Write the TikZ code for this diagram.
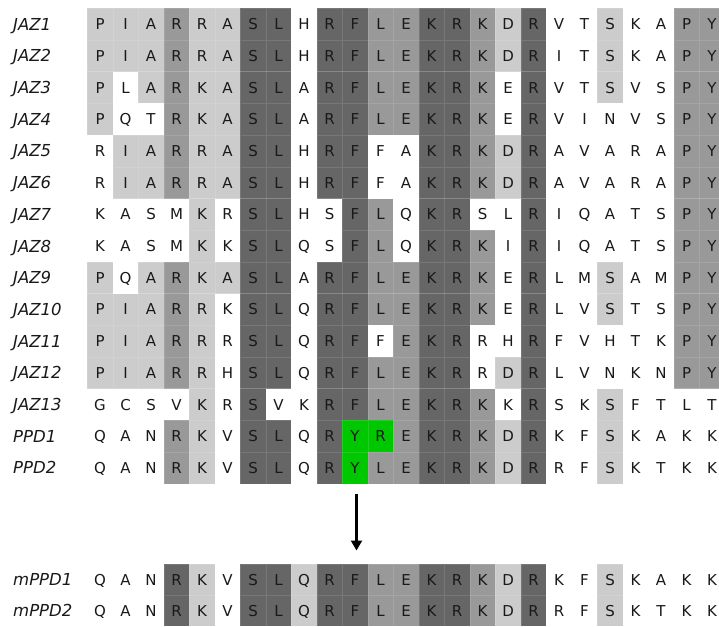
\documentclass[tikz,border=0pt]{standalone}
\usepackage{fontspec}
\setmainfont{DejaVu Sans}
\usetikzlibrary{arrows.meta}
\definecolor{sW}{RGB}{255,255,255}
\definecolor{sL}{RGB}{204,204,204}
\definecolor{sM}{RGB}{153,153,153}
\definecolor{sD}{RGB}{102,102,102}
\definecolor{sG}{RGB}{0,200,0}
\definecolor{ink}{RGB}{25,25,25}
\tikzset{
 cellbox/.style={draw=white, draw opacity=0.12, line width=0.6pt, inner sep=0pt, outer sep=0pt,
   minimum width=25.5pt, text=ink, font=\fontsize{15}{16}\selectfont, text height=10.9pt, text depth=0pt},
 labtext/.style={anchor=west, inner sep=0pt, font=\fontsize{16.5}{18}\selectfont\itshape, text=ink,
   text height=12pt, text depth=0pt},
 arrowline/.style={line width=2.2pt, draw=black, -{Triangle[width=11pt,length=10pt]}}
}
\newcommand\seqrow[5]{%
  \node[labtext] (lab#1) at (13,{#2+#3/2}) {#4};
  \foreach \sh/\ch [count=\i from 0] in {#5}{
    \node[cellbox, fill=s\sh, minimum height=#3pt] (c#1-\i) at ({100.05+25.5*\i},{#2+#3/2}) {\ch};
  }
}
\begin{document}
\begin{tikzpicture}[x=1pt,y=-1pt]
\useasboundingbox (0,0) rectangle (719,626);
\clip (0,0) rectangle (719,626);
\seqrow{r0}{8.3}{31.7}{JAZ1}{L/P,L/I,L/A,M/R,L/R,L/A,D/S,D/L,W/H,D/R,D/F,M/L,M/E,D/K,D/R,M/K,L/D,D/R,W/V,W/T,L/S,W/K,W/A,M/P,M/Y}
\seqrow{r1}{40.0}{31.7}{JAZ2}{L/P,L/I,L/A,M/R,L/R,L/A,D/S,D/L,W/H,D/R,D/F,M/L,M/E,D/K,D/R,M/K,L/D,D/R,W/I,W/T,L/S,W/K,W/A,M/P,M/Y}
\seqrow{r2}{71.7}{31.7}{JAZ3}{L/P,W/L,L/A,M/R,L/K,L/A,D/S,D/L,W/A,D/R,D/F,M/L,M/E,D/K,D/R,M/K,W/E,D/R,W/V,W/T,L/S,W/V,W/S,M/P,M/Y}
\seqrow{r3}{103.4}{31.7}{JAZ4}{L/P,W/Q,W/T,M/R,L/K,L/A,D/S,D/L,W/A,D/R,D/F,M/L,M/E,D/K,D/R,M/K,W/E,D/R,W/V,W/I,W/N,W/V,W/S,M/P,M/Y}
\seqrow{r4}{135.1}{31.7}{JAZ5}{W/R,L/I,L/A,M/R,L/R,L/A,D/S,D/L,W/H,D/R,D/F,W/F,W/A,D/K,D/R,M/K,L/D,D/R,W/A,W/V,W/A,W/R,W/A,M/P,M/Y}
\seqrow{r5}{166.8}{31.7}{JAZ6}{W/R,L/I,L/A,M/R,L/R,L/A,D/S,D/L,W/H,D/R,D/F,W/F,W/A,D/K,D/R,M/K,L/D,D/R,W/A,W/V,W/A,W/R,W/A,M/P,M/Y}
\seqrow{r6}{198.5}{31.7}{JAZ7}{W/K,W/A,W/S,W/M,L/K,W/R,D/S,D/L,W/H,W/S,D/F,M/L,W/Q,D/K,D/R,W/S,W/L,D/R,W/I,W/Q,W/A,W/T,W/S,M/P,M/Y}
\seqrow{r7}{230.2}{31.7}{JAZ8}{W/K,W/A,W/S,W/M,L/K,W/K,D/S,D/L,W/Q,W/S,D/F,M/L,W/Q,D/K,D/R,M/K,W/I,D/R,W/I,W/Q,W/A,W/T,W/S,M/P,M/Y}
\seqrow{r8}{261.9}{31.7}{JAZ9}{L/P,W/Q,L/A,M/R,L/K,L/A,D/S,D/L,W/A,D/R,D/F,M/L,M/E,D/K,D/R,M/K,W/E,D/R,W/L,W/M,L/S,W/A,W/M,M/P,M/Y}
\seqrow{r9}{293.6}{31.7}{JAZ10}{L/P,L/I,L/A,M/R,L/R,W/K,D/S,D/L,W/Q,D/R,D/F,M/L,M/E,D/K,D/R,M/K,W/E,D/R,W/L,W/V,L/S,W/T,W/S,M/P,M/Y}
\seqrow{r10}{325.3}{31.7}{JAZ11}{L/P,L/I,L/A,M/R,L/R,W/R,D/S,D/L,W/Q,D/R,D/F,W/F,M/E,D/K,D/R,W/R,W/H,D/R,W/F,W/V,W/H,W/T,W/K,M/P,M/Y}
\seqrow{r11}{357.0}{31.7}{JAZ12}{L/P,L/I,L/A,M/R,L/R,W/H,D/S,D/L,W/Q,D/R,D/F,M/L,M/E,D/K,D/R,W/R,L/D,D/R,W/L,W/V,W/N,W/K,W/N,M/P,M/Y}
\seqrow{r12}{388.7}{31.7}{JAZ13}{W/G,W/C,W/S,W/V,L/K,W/R,D/S,W/V,W/K,D/R,D/F,M/L,M/E,D/K,D/R,M/K,W/K,D/R,W/S,W/K,L/S,W/F,W/T,W/L,W/T}
\seqrow{r13}{420.4}{31.7}{PPD1}{W/Q,W/A,W/N,M/R,L/K,W/V,D/S,D/L,W/Q,D/R,G/Y,G/R,M/E,D/K,D/R,M/K,L/D,D/R,W/K,W/F,L/S,W/K,W/A,W/K,W/K}
\seqrow{r14}{452.1}{31.7}{PPD2}{W/Q,W/A,W/N,M/R,L/K,W/V,D/S,D/L,W/Q,D/R,G/Y,M/L,M/E,D/K,D/R,M/K,L/D,D/R,W/R,W/F,L/S,W/K,W/T,W/K,W/K}
\seqrow{m1}{564.3}{31}{mPPD1}{W/Q,W/A,W/N,D/R,L/K,W/V,D/S,D/L,L/Q,D/R,D/F,M/L,M/E,D/K,D/R,M/K,L/D,D/R,W/K,W/F,L/S,W/K,W/A,W/K,W/K}
\seqrow{m2}{595.3}{31}{mPPD2}{W/Q,W/A,W/N,D/R,L/K,W/V,D/S,D/L,L/Q,D/R,D/F,M/L,M/E,D/K,D/R,M/K,L/D,D/R,W/R,W/F,L/S,W/K,W/T,W/K,W/K}
\coordinate (arrS) at (356.5,494);
\coordinate (arrE) at (356.5,550.5);
\draw[arrowline] (arrS) -- (arrE);
\end{tikzpicture}
\end{document}
